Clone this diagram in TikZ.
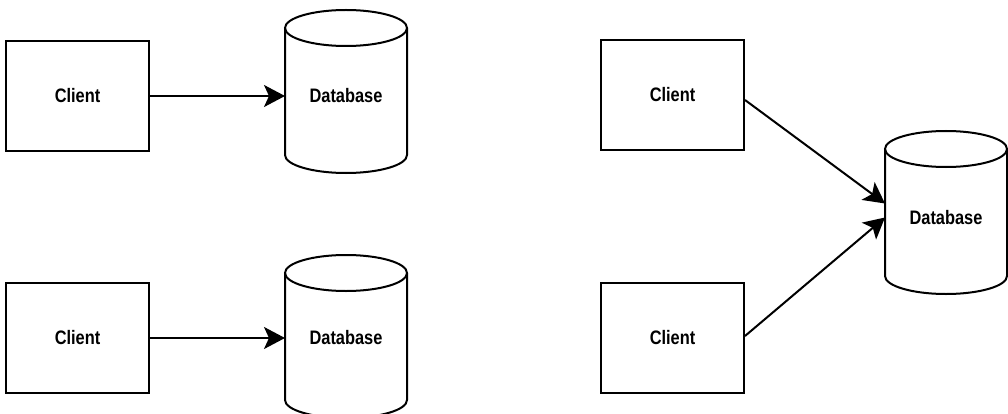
\documentclass[tikz,border=0pt]{standalone}
\usepackage{fontspec}
\setmainfont{Liberation Sans}[FakeStretch=0.84]
\usetikzlibrary{arrows.meta}
\tikzset{client/.style={rectangle,draw,line width=2pt,minimum width=143pt,minimum height=110pt,inner sep=0pt,
                        font=\bfseries\fontsize{19.5}{21}\selectfont},
         db/.style={rectangle,minimum width=122pt,minimum height=163pt,inner sep=0pt,outer sep=0pt},
         dbline/.style={line width=2pt},
         conn/.style={line width=2pt,-{Stealth[length=21pt,width=22pt,inset=5pt]}},
         lab/.style={font=\bfseries\fontsize{19.5}{21}\selectfont}
         }
% outline of a database drum round a db node
\newcommand\dbdraw[1]{%
  \draw[dbline] ([yshift=-18pt]#1.north west) -- ([yshift=18pt]#1.south west)
     arc[start angle=180,end angle=360,x radius=61pt,y radius=18pt]
     -- ([yshift=-18pt]#1.north east);
  \draw[dbline] ([yshift=-18pt]#1.north) ellipse [x radius=61pt,y radius=18pt];}

\begin{document}
\begin{tikzpicture}[x=1pt,y=1pt]
  \useasboundingbox (0,0) rectangle (1008,413);

  % left, top pair
  \node[client] (c1) at (77.5,317) {Client};
  \node[db] (d1) at (346,321.5) {};
  \dbdraw{d1}
  \node[lab] at ([yshift=-4.5pt]d1.center) {Database};
  \draw[conn] (c1.east) -- (d1.west |- c1.east);

  % left, bottom pair
  \node[client] (c2) at (77.5,75) {Client};
  \node[db] (d2) at (346,76.5) {};
  \dbdraw{d2}
  \node[lab] at ([yshift=-1.5pt]d2.center) {Database};
  \draw[conn] (c2.east) -- (d2.west |- c2.east);

  % right, two clients on one database
  \node[client] (c3) at (672.5,318) {Client};
  \node[client] (c4) at (672.5,75) {Client};
  \node[db] (d3) at (946,200.5) {};
  \dbdraw{d3}
  \node[lab] at ([yshift=-5.5pt]d3.center) {Database};
  \draw[conn] ([yshift=-5pt]c3.east) -- ([yshift=9pt]d3.west);
  \draw[conn] ([yshift=2pt]c4.east) -- ([yshift=-5pt]d3.west);
\end{tikzpicture}
\end{document}
